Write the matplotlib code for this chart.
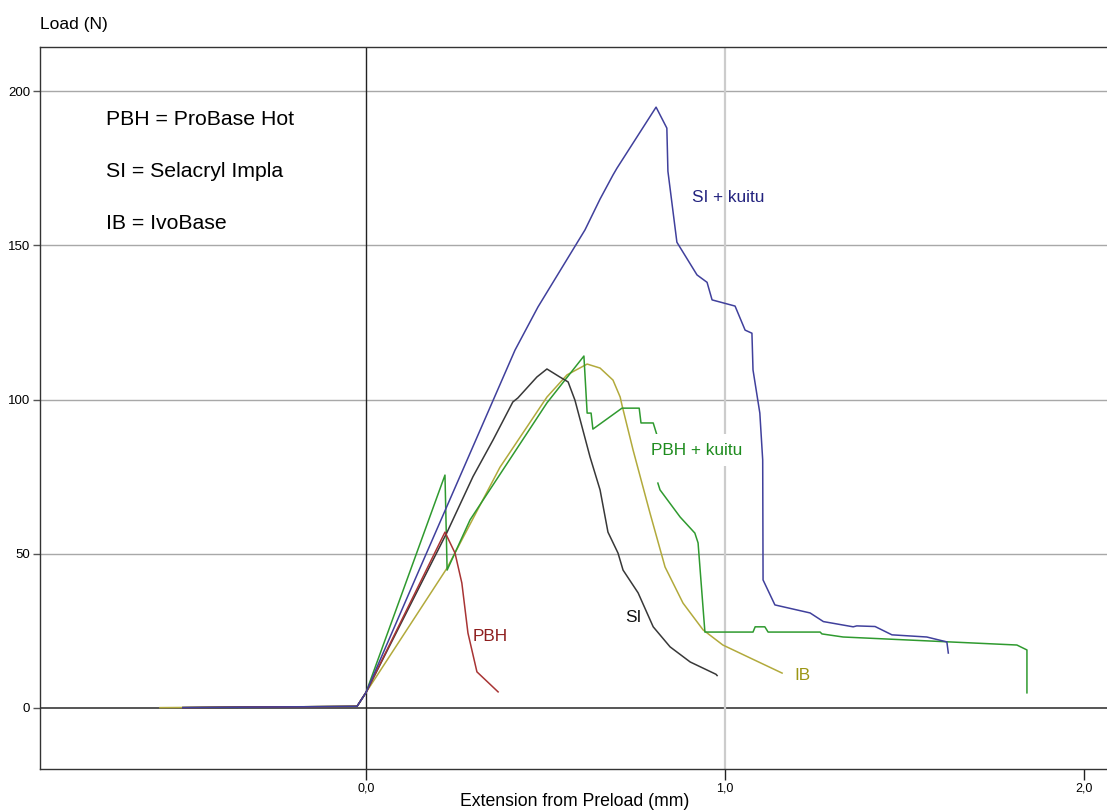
import numpy as np
import matplotlib
matplotlib.use("Agg")
import matplotlib.pyplot as plt

plt.rcParams['font.family'] = ['Liberation Sans', 'DejaVu Sans']

# Extension (mm) / load (N)
si_kuitu_x = [-0.51, -0.025, 0.0, 0.136, 0.415, 0.479, 0.61, 0.652, 0.688, 0.699, 0.808,
              0.838, 0.841, 0.866, 0.922, 0.95, 0.964, 1.028, 1.056, 1.075, 1.078, 1.097,
              1.105, 1.106, 1.139, 1.237, 1.274, 1.357, 1.367, 1.418, 1.465, 1.562, 1.618, 1.622]
si_kuitu_y = [0.1, 0.5, 5, 41.5, 116, 130, 155, 165, 172.8, 175, 194.8,
              188, 174, 151, 140.4, 138, 132.3, 130.3, 122.5, 121.5, 109.6, 95.6,
              80.4, 41.5, 33.4, 30.8, 28, 26.3, 26.6, 26.4, 23.7, 23, 21.4, 17.8]

si_x = [-0.51, -0.025, 0.0, 0.226, 0.298, 0.354, 0.409, 0.423, 0.476, 0.504, 0.54, 0.563,
        0.582, 0.624, 0.652, 0.674, 0.702, 0.716, 0.758, 0.8, 0.847, 0.903, 0.975, 0.978]
si_y = [0.1, 0.5, 5, 57, 75, 86.9, 99.2, 100.5, 107.3, 109.9, 107.3, 105.7,
        99.8, 81.4, 70.7, 57, 50.2, 44.7, 37.3, 26.3, 19.8, 14.9, 10.9, 10.5]

pbh_x = [-0.51, -0.025, 0.0, 0.22, 0.248, 0.267, 0.284, 0.309, 0.368]
pbh_y = [0.1, 0.5, 5, 57, 50.2, 40.5, 24.3, 11.7, 5.2]

pbh_kuitu_x = [-0.51, -0.025, 0.0, 0.22, 0.226, 0.29, 0.504, 0.607, 0.616, 0.627, 0.632,
               0.713, 0.761, 0.766, 0.8, 0.813, np.nan,
               0.813, 0.819, 0.875, 0.916, 0.925, 0.944, 1.078, 1.084, 1.111, 1.12,
               1.265, 1.27, 1.329, 1.813, 1.841, 1.841]
pbh_kuitu_y = [0.1, 0.5, 5, 75.5, 44.7, 61, 98.9, 114.1, 95.6, 95.6, 90.4,
               97.2, 97.2, 92.4, 92.4, 87.5, np.nan,
               72.9, 70.7, 61.9, 56.7, 53.5, 24.6, 24.6, 26.3, 26.3, 24.6,
               24.6, 24, 23, 20.4, 18.8, 4.9]

ib_x = [-0.574, -0.025, 0.0, 0.226, 0.373, 0.504, 0.56, 0.616, 0.652, 0.688, 0.708, 0.713,
        0.744, 0.791, 0.833, 0.883, 0.939, 0.994, 1.07, 1.159]
ib_y = [0.1, 0.5, 5, 45.4, 78, 100.8, 108, 111.5, 110.2, 106.3, 100.8, 98.2,
        83.6, 63.2, 45.7, 34, 25.3, 20.4, 16.2, 11.3]

y_ticks = [0, 50, 100, 150, 200]
x_ticks = [0.0, 1.0, 2.0]
x_tick_labels = ["0,0", "1,0", "2,0"]

fig = plt.figure(figsize=(11.07, 8.11), dpi=100)
ax = fig.add_axes([40 / 1107, 42 / 811, 1 - 40 / 1107, 722 / 811])

# grid and reference lines
for yv in y_ticks[1:]:
    ax.axhline(yv, color="#a8a8a8", lw=1.0, zorder=1)
ax.axhline(0, color="#555555", lw=1.4, zorder=1)
ax.axvline(1.0, color="#cccccc", lw=1.6, zorder=1)
ax.axvline(0.0, color="#222222", lw=1.0, zorder=1)

ax.plot(ib_x, ib_y, color="#b2aa3c", lw=1.1, zorder=2)
ax.plot(pbh_kuitu_x, pbh_kuitu_y, color="#2f9a2f", lw=1.1, zorder=3)
ax.plot(si_x, si_y, color="#383838", lw=1.1, zorder=4)
ax.plot(pbh_x, pbh_y, color="#a83434", lw=1.1, zorder=5)
ax.plot(si_kuitu_x, si_kuitu_y, color="#40409c", lw=1.1, zorder=6)

ax.set_xlim(-0.908, 2.064)
ax.set_ylim(-19.8, 214.3)

ax.set_xticks(x_ticks)
ax.set_xticklabels(x_tick_labels)
ax.set_yticks(y_ticks)
ax.tick_params(axis="x", direction="out", length=8, width=1, color="#222222",
               labelsize=9, pad=2)
ax.tick_params(axis="y", direction="out", length=5, width=1, color="#555555",
               labelsize=9.5, pad=2)

for side in ["left", "top", "bottom"]:
    ax.spines[side].set_color("#333333")
    ax.spines[side].set_linewidth(1.0)
ax.spines["right"].set_visible(False)

# abbreviations
ax.text(0.062, 0.899, "PBH = ProBase Hot", transform=ax.transAxes, fontsize=15.3, va="center")
ax.text(0.062, 0.827, "SI = Selacryl Impla", transform=ax.transAxes, fontsize=15.3, va="center")
ax.text(0.062, 0.755, "IB = IvoBase", transform=ax.transAxes, fontsize=15.3, va="center")

# curve labels
ax.text(0.908, 165.6, "SI + kuitu", color="#23237f", fontsize=12.4, va="center", zorder=7)
ax.text(0.794, 83.6, "PBH + kuitu", color="#1e8c1e", fontsize=12.4, va="center", zorder=7,
        bbox=dict(facecolor="white", edgecolor="none", pad=6))
ax.text(0.298, 23, "PBH", color="#8e1e1e", fontsize=12.4, va="center", zorder=7)
ax.text(0.721, 29.2, "SI", color="#111111", fontsize=12.4, va="center", zorder=7)
ax.text(1.192, 10.4, "IB", color="#9c9614", fontsize=12.4, va="center", zorder=7)

fig.text(40 / 1107, 1 - 24 / 811, "Load (N)", fontsize=12.5, va="center", ha="left")
fig.text(575 / 1107, 1 - 802 / 811, "Extension from Preload (mm)", fontsize=12.7,
         va="center", ha="center")

fig.savefig("out.png", dpi=100)
